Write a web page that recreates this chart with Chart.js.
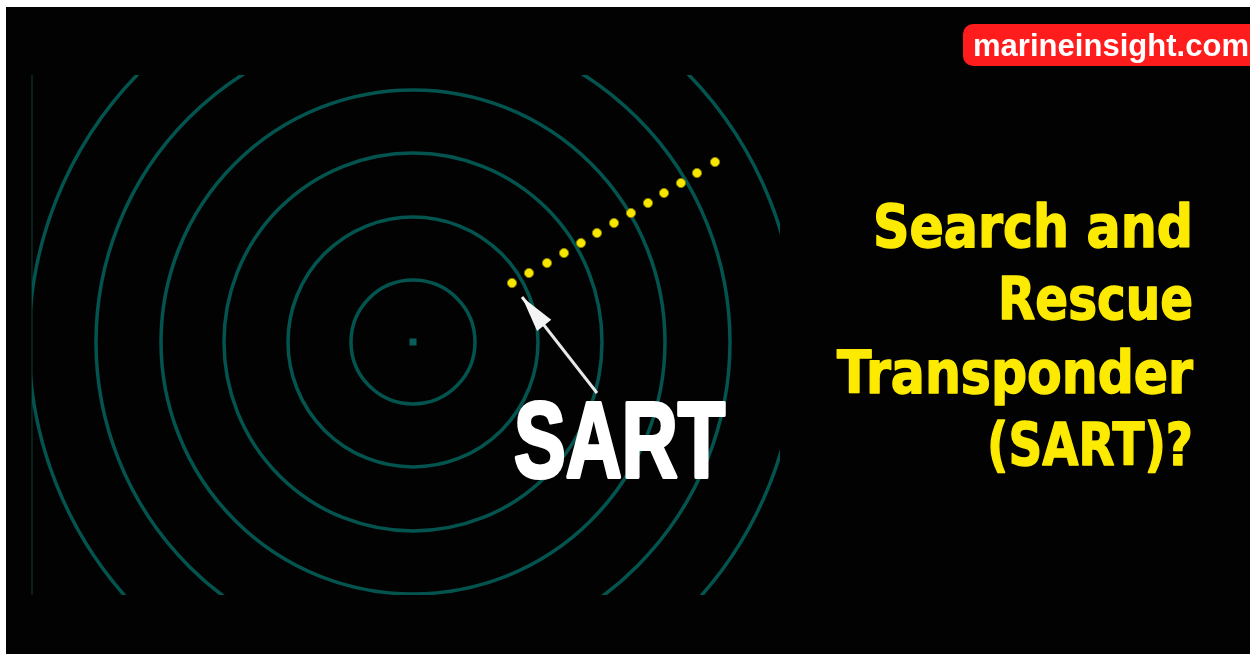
<!DOCTYPE html>
<html>
<head>
<meta charset="utf-8">
<script src="https://cdn.jsdelivr.net/npm/chart.js@4"></script>
<style>
  html, body { margin: 0; padding: 0; background: #fff; overflow: hidden; }
  canvas { display: block; }
</style>
</head>
<body>
<canvas id="sart" width="1250" height="654"></canvas>
<script>
// radar picture: rings round the ship, SART blips, arrow
const ringRadii = [62, 125, 189, 252, 317, 384];
const shipX = [413];
const shipY = [342];
const blipX = [512, 529, 547, 564, 581, 597, 614, 631, 648, 664, 681, 697, 715];
const blipY = [283, 273, 263, 253, 243, 233, 223, 213, 203, 193, 183, 173, 162];
const arrowX = [597, 522];
const arrowY = [393, 297];

// texts
const titleLines = ["Search and", "Rescue", "Transponder", "(SART)?"];
const pointerLabel = "SART";
const badgeText = "marineinsight.com";

const TEAL = "#03544f";
const YELLOW = "#fcea00";

// draw text squeezed/stretched so it spans exactly `width`, optional outline to thicken
function fitText(ctx, text, left, baseline, width, thicken) {
  const w = ctx.measureText(text).width;
  ctx.save();
  ctx.translate(left, baseline);
  ctx.scale(width / w, 1);
  ctx.textAlign = "left";
  ctx.textBaseline = "alphabetic";
  ctx.fillText(text, 0, 0);
  if (thicken) {
    ctx.lineJoin = "round";
    ctx.lineWidth = thicken;
    ctx.strokeStyle = ctx.fillStyle;
    ctx.strokeText(text, 0, 0);
  }
  ctx.restore();
}

const backdrop = {
  id: "backdrop",
  beforeDraw(chart) {
    const ctx = chart.ctx;
    ctx.save();
    ctx.fillStyle = "#ffffff";
    ctx.fillRect(0, 0, chart.width, chart.height);
    ctx.fillStyle = "#020202";
    ctx.fillRect(6, 7, chart.width - 6, chart.height - 7);
    ctx.restore();
  },
};

const rings = {
  id: "rings",
  beforeDatasetsDraw(chart) {
    const { ctx, scales: { x, y } } = chart;
    const cx = x.getPixelForValue(shipX[0]);
    const cy = y.getPixelForValue(shipY[0]);
    const left = x.getPixelForValue(32), right = x.getPixelForValue(780);
    const top = y.getPixelForValue(75), bottom = y.getPixelForValue(595);
    ctx.save();
    // faint edge of the radar frame
    ctx.strokeStyle = "#06201e";
    ctx.lineWidth = 2;
    ctx.beginPath();
    ctx.moveTo(left, top);
    ctx.lineTo(left, bottom);
    ctx.stroke();

    ctx.beginPath();
    ctx.rect(left, top, right - left, bottom - top);
    ctx.clip();
    ctx.strokeStyle = TEAL;
    ctx.lineWidth = 3.5;
    ringRadii.forEach((r) => {
      const rp = x.getPixelForValue(shipX[0] + r) - cx;
      ctx.beginPath();
      ctx.arc(cx, cy, rp, 0, Math.PI * 2);
      ctx.stroke();
    });
    ctx.restore();
  },
};

const arrowHead = {
  id: "arrowHead",
  afterDatasetsDraw(chart) {
    const { ctx, scales: { x, y } } = chart;
    const x0 = x.getPixelForValue(arrowX[0]), y0 = y.getPixelForValue(arrowY[0]);
    const x1 = x.getPixelForValue(arrowX[1]), y1 = y.getPixelForValue(arrowY[1]);
    const len = Math.hypot(x1 - x0, y1 - y0);
    const ux = (x1 - x0) / len, uy = (y1 - y0) / len;
    const headLen = 36, half = 9;
    const bx = x1 - ux * headLen, by = y1 - uy * headLen;
    ctx.save();
    ctx.fillStyle = "#f4f4f4";
    ctx.beginPath();
    ctx.moveTo(x1, y1);
    ctx.lineTo(bx - uy * half, by + ux * half);
    ctx.lineTo(bx + uy * half, by - ux * half);
    ctx.closePath();
    ctx.fill();
    ctx.restore();
  },
};

const labels = {
  id: "labels",
  afterDatasetsDraw(chart) {
    const ctx = chart.ctx;
    ctx.save();

    // SART label under the arrow
    ctx.fillStyle = "#ffffff";
    ctx.font = "bold 108px 'Liberation Sans Narrow', 'Liberation Sans', Arial, sans-serif";
    fitText(ctx, pointerLabel, 514, 477, 211, 4);

    // title on the right, right aligned
    ctx.fillStyle = YELLOW;
    ctx.font = "bold 58px 'DejaVu Sans', sans-serif";
    const lefts = [873, 998, 837, 987];
    const bases = [247, 319, 393, 465];
    titleLines.forEach((line, i) => {
      fitText(ctx, line, lefts[i], bases[i], 1193 - lefts[i], 1.5);
    });

    // red badge top right
    ctx.fillStyle = "#ff1c1c";
    ctx.beginPath();
    ctx.roundRect(963, 24, 300, 42, 10);
    ctx.fill();
    ctx.fillStyle = "#ffffff";
    ctx.font = "bold 32px 'Liberation Sans', Arial, sans-serif";
    fitText(ctx, badgeText, 973, 56, 276);

    ctx.restore();
  },
};

new Chart(document.getElementById("sart"), {
  type: "scatter",
  data: {
    datasets: [
      {
        label: "Ship",
        data: shipX.map((v, i) => ({ x: v, y: shipY[i] })),
        pointStyle: "rect",
        pointRadius: 5,
        pointBackgroundColor: "#0a5e5a",
        pointBorderWidth: 0,
      },
      {
        label: "SART blips",
        data: blipX.map((v, i) => ({ x: v, y: blipY[i] })),
        pointRadius: 4.6,
        pointBackgroundColor: "#f6e600",
        pointBorderColor: "#8a8000",
        pointBorderWidth: 1,
      },
      {
        label: "Arrow",
        type: "line",
        data: arrowX.map((v, i) => ({ x: v, y: arrowY[i] })),
        borderColor: "#e8e8e8",
        borderWidth: 3,
        pointRadius: 0,
        fill: false,
      },
    ],
  },
  options: {
    responsive: false,
    animation: false,
    events: [],
    layout: { padding: 0, autoPadding: false },
    scales: {
      x: { type: "linear", min: 0, max: 1250, display: false },
      y: { type: "linear", min: 0, max: 654, reverse: true, display: false },
    },
    plugins: {
      legend: { display: false },
      tooltip: { enabled: false },
      title: { display: false },
    },
  },
  plugins: [backdrop, rings, arrowHead, labels],
});
</script>
</body>
</html>
